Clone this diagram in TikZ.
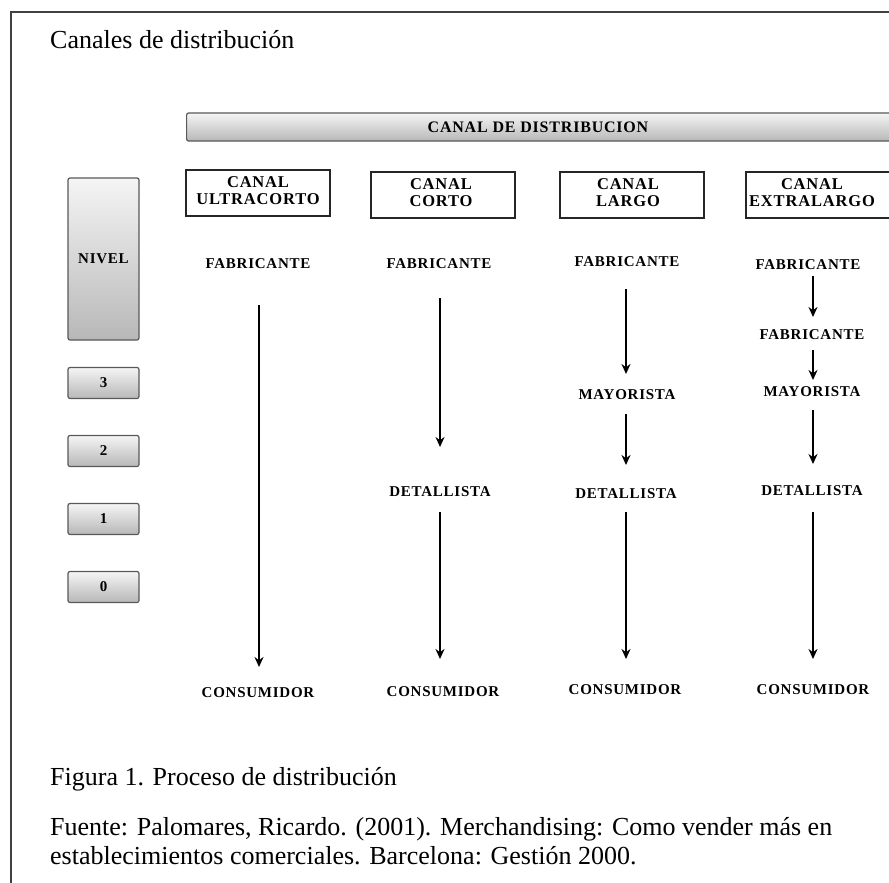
\documentclass[tikz,border=0pt]{standalone}
\usepackage{fontspec}
\setmainfont{Liberation Serif}
\newfontfamily\lblfont[LetterSpace=5]{Liberation Serif}
\usetikzlibrary{arrows.meta}
\begin{document}
\begin{tikzpicture}[x=1pt,y=-1pt,
  graybox/.style={draw=black!65, line width=1.2pt, rounded corners=2pt, top color=black!4, bottom color=black!28, inner sep=0pt},
  chanbox/.style={draw=black!85, line width=2.2pt, fill=white, inner sep=0pt, align=center, font=\lblfont\bfseries\fontsize{16.5}{17}\selectfont},
  lbl/.style={font=\lblfont\bfseries\fontsize{15}{16}\selectfont, inner sep=0pt, text=black},
  flow/.style={-{Stealth[length=10pt,width=9pt]}, line width=1.9pt, black},
  body/.style={font=\fontsize{26}{30}\selectfont, anchor=base west, inner sep=0pt}
]
\useasboundingbox (0,0) rectangle (889,883);
\clip (0,0) rectangle (889,883);
\fill[white] (0,0) rectangle (889,883);
% frame
\draw[line width=1.5pt, black!75] (11,883) -- (11,12) -- (889,12);
% titles
\node[body] (title) at (50,49) {Canales de distribución};
\node[body] (fig) at (50,785) {Figura 1. Proceso de distribución};
\node[body] (src1) at (50,835) {Fuente: Palomares, Ricardo. (2001). Merchandising: Como vender más en};
\node[body] (src2) at (50,864) {establecimientos comerciales. Barcelona: Gestión 2000.};
% banner
\node[graybox, minimum width=730pt, minimum height=28pt, anchor=west] (banner) at (186,127) {};
\node[lbl, font=\lblfont\bfseries\fontsize{16}{16}\selectfont] (bannertxt) at (538,127) {CANAL DE DISTRIBUCION};
% channel boxes (frames, then text)
\node[chanbox, minimum width=144pt, minimum height=46pt] (b1) at (258,193) {};
\node[chanbox, minimum width=144pt, minimum height=46pt] (b2) at (443,195) {};
\node[chanbox, minimum width=144pt, minimum height=46pt] (b3) at (632,195) {};
\node[chanbox, minimum width=150pt, minimum height=46pt] (b4) at (821,195) {};
\node[chanbox, draw=none, fill=none] (t1) at (258,191) {CANAL\\ULTRACORTO};
\node[chanbox, draw=none, fill=none] (t2) at (441,193) {CANAL\\CORTO};
\node[chanbox, draw=none, fill=none] (t3) at (628,193) {CANAL\\LARGO};
\node[chanbox, draw=none, fill=none] (t4) at (812,193) {CANAL\\EXTRALARGO};
% level column
\node[graybox, minimum width=71pt, minimum height=162pt, lbl] (nivel) at (103.5,259) {NIVEL};
\node[graybox, minimum width=71pt, minimum height=31pt, lbl] (l3) at (103.5,383) {3};
\node[graybox, minimum width=71pt, minimum height=31pt, lbl] (l2) at (103.5,451) {2};
\node[graybox, minimum width=71pt, minimum height=31pt, lbl] (l1) at (103.5,519) {1};
\node[graybox, minimum width=71pt, minimum height=31pt, lbl] (l0) at (103.5,587) {0};
% column 1
\node[lbl] (c1f) at (258,264) {FABRICANTE};
\node[lbl] (c1c) at (258,693) {CONSUMIDOR};
% column 2
\node[lbl] (c2f) at (439,264) {FABRICANTE};
\node[lbl] (c2d) at (440,492) {DETALLISTA};
\node[lbl] (c2c) at (443,692) {CONSUMIDOR};
% column 3
\node[lbl] (c3f) at (627,262) {FABRICANTE};
\node[lbl] (c3m) at (627,395) {MAYORISTA};
\node[lbl] (c3d) at (626,494) {DETALLISTA};
\node[lbl] (c3c) at (625,690) {CONSUMIDOR};
% column 4
\node[lbl] (c4f) at (808,265) {FABRICANTE};
\node[lbl] (c4g) at (812,335) {FABRICANTE};
\node[lbl] (c4m) at (812,392) {MAYORISTA};
\node[lbl] (c4d) at (812,491) {DETALLISTA};
\node[lbl] (c4c) at (813,690) {CONSUMIDOR};
% arrow end points
\coordinate (a1s) at (259,305); \coordinate (a1e) at (259,667);
\coordinate (a2s) at (440,298); \coordinate (a2e) at (440,447);
\coordinate (a3s) at (440,512); \coordinate (a3e) at (440,659);
\coordinate (a4s) at (626,289); \coordinate (a4e) at (626,374);
\coordinate (a5s) at (626,414); \coordinate (a5e) at (626,465);
\coordinate (a6s) at (626,512); \coordinate (a6e) at (626,659);
\coordinate (a7s) at (813,276); \coordinate (a7e) at (813,317);
\coordinate (a8s) at (813,350); \coordinate (a8e) at (813,380);
\coordinate (a9s) at (813,410); \coordinate (a9e) at (813,464);
\coordinate (a10s) at (813,512); \coordinate (a10e) at (813,659);
\foreach \i in {1,...,10} {\draw[flow] (a\i s) -- (a\i e);}
\end{tikzpicture}
\end{document}
